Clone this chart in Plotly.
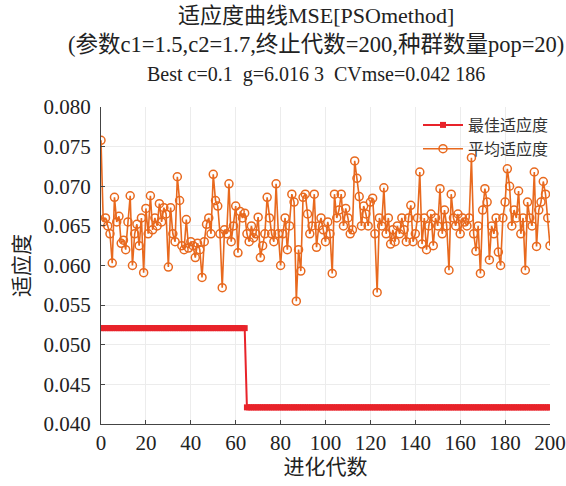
import plotly.graph_objects as go

generations = list(range(0, 201))

avg_fitness = [
    0.0758, 0.0655, 0.0660, 0.0650, 0.0640, 0.0603, 0.0686, 0.0655, 0.0662, 0.0628,
    0.0632, 0.0620, 0.0655, 0.0688, 0.0600, 0.0640, 0.0652, 0.0625, 0.0660, 0.0591,
    0.0672, 0.0640, 0.0688, 0.0645, 0.0660, 0.0650, 0.0678, 0.0655, 0.0673, 0.0665,
    0.0598, 0.0673, 0.0640, 0.0630, 0.0712, 0.0682, 0.0625, 0.0620, 0.0658, 0.0622,
    0.0630, 0.0625, 0.0610, 0.0628, 0.0620, 0.0585, 0.0630, 0.0652, 0.0660, 0.0640,
    0.0715, 0.0682, 0.0675, 0.0640, 0.0572, 0.0645, 0.0640, 0.0703, 0.0630, 0.0650,
    0.0675, 0.0616, 0.0668, 0.0660, 0.0666, 0.0640, 0.0630, 0.0650, 0.0635, 0.0640,
    0.0661, 0.0610, 0.0625, 0.0640, 0.0686, 0.0660, 0.0640, 0.0630, 0.0703, 0.0640,
    0.0600, 0.0640, 0.0660, 0.0620, 0.0650, 0.0690, 0.0680, 0.0555, 0.0620, 0.0593,
    0.0686, 0.0690, 0.0665, 0.0640, 0.0650, 0.0690, 0.0623, 0.0650, 0.0660, 0.0645,
    0.0630, 0.0655, 0.0640, 0.0590, 0.0690, 0.0660, 0.0670, 0.0690, 0.0650, 0.0672,
    0.0660, 0.0640, 0.0645, 0.0732, 0.0710, 0.0687, 0.0650, 0.0675, 0.0665, 0.0650,
    0.0680, 0.0685, 0.0640, 0.0566, 0.0660, 0.0650, 0.0698, 0.0640, 0.0660, 0.0627,
    0.0645, 0.0630, 0.0650, 0.0640, 0.0660, 0.0645, 0.0630, 0.0660, 0.0676, 0.0630,
    0.0640, 0.0660, 0.0718, 0.0627, 0.0660, 0.0620, 0.0650, 0.0665, 0.0625, 0.0660,
    0.0650, 0.0697, 0.0640, 0.0670, 0.0650, 0.0594, 0.0690, 0.0660, 0.0650, 0.0665,
    0.0640, 0.0660, 0.0655, 0.0650, 0.0660, 0.0736, 0.0640, 0.0618, 0.0650, 0.0590,
    0.0670, 0.0697, 0.0680, 0.0607, 0.0650, 0.0640, 0.0660, 0.0617, 0.0600, 0.0660,
    0.0680, 0.0722, 0.0700, 0.0650, 0.0670, 0.0660, 0.0694, 0.0640, 0.0660, 0.0594,
    0.0680, 0.0660, 0.0650, 0.0718, 0.0624, 0.0670, 0.0680, 0.0706, 0.0690, 0.0660,
    0.0625,
]

best_fitness = [0.0521] * 65 + [0.0421] * 136

title_lines = [
    "适应度曲线MSE[PSOmethod]",
    "(参数c1=1.5,c2=1.7,终止代数=200,种群数量pop=20)",
    "Best c=0.1  g=6.016 3  CVmse=0.042 186",
]
title_sizes = [22, 22.5, 20]

FONT = "Liberation Serif, Times New Roman, Noto Sans CJK SC, serif"
RED = "#e8232a"
ORANGE = "#e8691e"

L, R, T, B = 101, 16, 107, 62
W, H = 566, 486
plot_w = W - L - R
plot_h = H - T - B

fig = go.Figure()
fig.add_trace(go.Scatter(
    x=generations, y=best_fitness, name="最佳适应度",
    mode="lines+markers",
    line=dict(color=RED, width=2),
    marker=dict(symbol="square", size=6, color=RED),
))
fig.add_trace(go.Scatter(
    x=generations, y=avg_fitness, name="平均适应度",
    mode="lines+markers",
    line=dict(color=ORANGE, width=1.6),
    marker=dict(symbol="circle-open", size=8, color=ORANGE, line=dict(width=1.5)),
))

for i, (t, s) in enumerate(zip(title_lines, title_sizes)):
    fig.add_annotation(
        text=t, xref="paper", yref="paper",
        x=(316 - L) / plot_w, y=1 + (T - (15 + 30 * i)) / plot_h,
        xanchor="center", yanchor="middle", showarrow=False,
        font=dict(family=FONT, size=s, color="#222"),
    )

fig.update_layout(
    width=W, height=H,
    margin=dict(l=L, r=R, t=T, b=B, autoexpand=False),
    paper_bgcolor="white", plot_bgcolor="white",
    font=dict(family=FONT, size=21, color="#222"),
    showlegend=True,
    legend=dict(
        x=(418 - L) / plot_w, y=1 - (108 - T) / plot_h, xanchor="left", yanchor="top",
        bgcolor="rgba(255,255,255,0)", font=dict(family=FONT, size=16, color="#333"),
        tracegroupgap=0, itemwidth=40,
    ),
)
fig.update_xaxes(
    range=[0, 200], tickmode="linear", tick0=0, dtick=20,
    showline=True, linecolor="#444", linewidth=1,
    ticks="inside", ticklen=4, tickcolor="#444",
    showgrid=True, gridcolor="#ececec", zeroline=False,
    ticklabeloverflow="allow",
    title=dict(text="进化代数", font=dict(family=FONT, size=21), standoff=2),
    tickfont=dict(family=FONT, size=21),
)
fig.update_yaxes(
    range=[0.040, 0.080], tickmode="linear", tick0=0.040, dtick=0.005,
    tickformat=".3f",
    showline=True, linecolor="#444", linewidth=1,
    ticks="inside", ticklen=4, tickcolor="#444",
    showgrid=True, gridcolor="#ececec", zeroline=False,
    ticklabelstandoff=5,
    title=dict(text="适应度", font=dict(family=FONT, size=21), standoff=8),
    tickfont=dict(family=FONT, size=21),
)

fig.write_html("out.html")
